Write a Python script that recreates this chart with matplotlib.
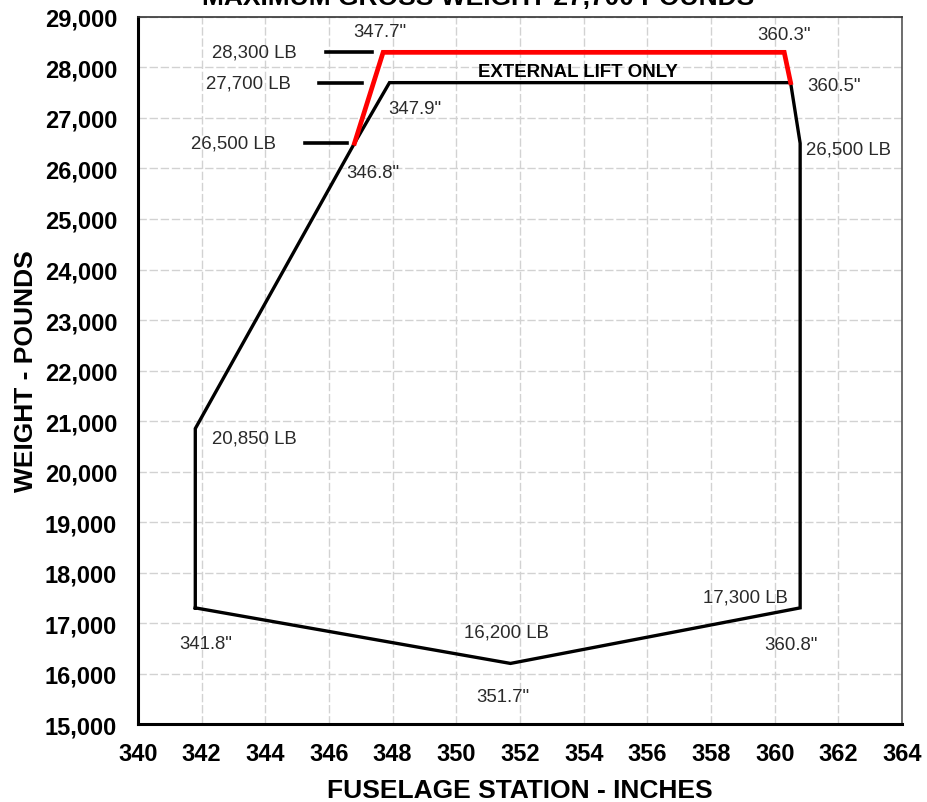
import numpy as np
import matplotlib.pyplot as plt
from matplotlib.ticker import FuncFormatter

plt.rcParams['font.family'] = ['Liberation Sans', 'DejaVu Sans']

# envelope (black) - fuselage station (in) vs weight (lb)
env_x = [341.8, 351.7, 360.8, 360.8, 360.5, 347.9, 346.8, 341.8, 341.8]
env_y = [17300, 16200, 17300, 26500, 27700, 27700, 26500, 20850, 17300]

# external lift only extension (red)
ext_x = [346.8, 347.7, 360.3, 360.5]
ext_y = [26500, 28300, 28300, 27700]

# short weight markers on the left
mark_w = [28300, 27700, 26500]
mark_x0 = [345.9, 345.7, 345.25]
mark_x1 = [347.35, 347.05, 346.55]
mark_lbl = ['28,300 LB', '27,700 LB', '26,500 LB']

# point labels: (x, y, text, dx px, dy px, ha)
point_lbls = [
    (347.7, 28300, '347.7"', -3, 21, 'center'),
    (360.3, 28300, '360.3"', 0, 18, 'center'),
    (360.5, 27700, '360.5"', 17, -3, 'left'),
    (347.9, 27700, '347.9"', -1, -26, 'left'),
    (360.8, 26500, '26,500 LB', 6, -6, 'left'),
    (346.8, 26500, '346.8"', -8, -29, 'left'),
    (341.8, 20850, '20,850 LB', 17, -9, 'left'),
    (360.8, 17300, '17,300 LB', -12, 11, 'right'),
    (351.7, 16200, '16,200 LB', -4, 31, 'center'),
    (351.7, 16200, '351.7"', -8, -33, 'center'),
    (341.8, 17300, '341.8"', 10, -36, 'center'),
    (360.8, 17300, '360.8"', -9, -37, 'center'),
]

txt_col = '#2a2a2a'

fig = plt.figure(figsize=(9.28, 8.03), dpi=100)
ax = fig.add_axes([0.1487, 0.0971, 0.8233, 0.8805])

ax.plot(env_x, env_y, color='black', lw=2.4, solid_joinstyle='miter', zorder=3)
ax.plot(ext_x, ext_y, color='#ff0000', lw=3.4, solid_joinstyle='miter', zorder=4)

for w, x0, x1, lbl in zip(mark_w, mark_x0, mark_x1, mark_lbl):
    ax.plot([x0, x1], [w, w], color='black', lw=2.6, zorder=3)
    ax.annotate(lbl, (x0, w), xytext=(-29, 0), textcoords='offset pixels',
                ha='right', va='center', fontsize=13.4, color=txt_col)

for x, y, t, dx, dy, ha in point_lbls:
    ax.annotate(t, (x, y), xytext=(dx, dy), textcoords='offset pixels',
                ha=ha, va='center', fontsize=13.4, color=txt_col)

ax.annotate('EXTERNAL LIFT ONLY', ((347.9 + 360.5) / 2, 27700), xytext=(-12, 11),
            textcoords='offset pixels', ha='center', va='center',
            fontsize=13.4, fontweight='bold', color='black')

ax.set_xlim(340, 364)
ax.set_ylim(15000, 29000)
ax.set_xticks(np.arange(340, 365, 2))
ax.set_yticks(np.arange(15000, 29001, 1000))
ax.yaxis.set_major_formatter(FuncFormatter(lambda v, p: f'{int(v):,}'))
ax.tick_params(length=0, labelsize=17)
ax.tick_params(axis='y', pad=15)
ax.tick_params(axis='x', pad=13)
for lab in ax.get_xticklabels() + ax.get_yticklabels():
    lab.set_fontweight('bold')

ax.grid(True, color='#d2d2d2', ls=(0, (6, 2)), lw=1.0)
ax.set_axisbelow(True)

ax.spines['left'].set_linewidth(2.2)
ax.spines['bottom'].set_linewidth(2.2)
ax.spines['top'].set_linewidth(1.2)
ax.spines['right'].set_linewidth(1.2)
ax.spines['top'].set_color('#333333')
ax.spines['right'].set_color('#555555')

ax.set_xlabel('FUSELAGE STATION - INCHES', fontsize=19, fontweight='bold', labelpad=9)
ax.set_ylabel('WEIGHT - POUNDS', fontsize=19, fontweight='bold', labelpad=5)

fig.text(478 / 928, 1 - 5 / 803, 'MAXIMUM GROSS WEIGHT 27,700 POUNDS',
         ha='center', va='baseline', fontsize=19, fontweight='bold')

fig.savefig('out.png', dpi=100)
